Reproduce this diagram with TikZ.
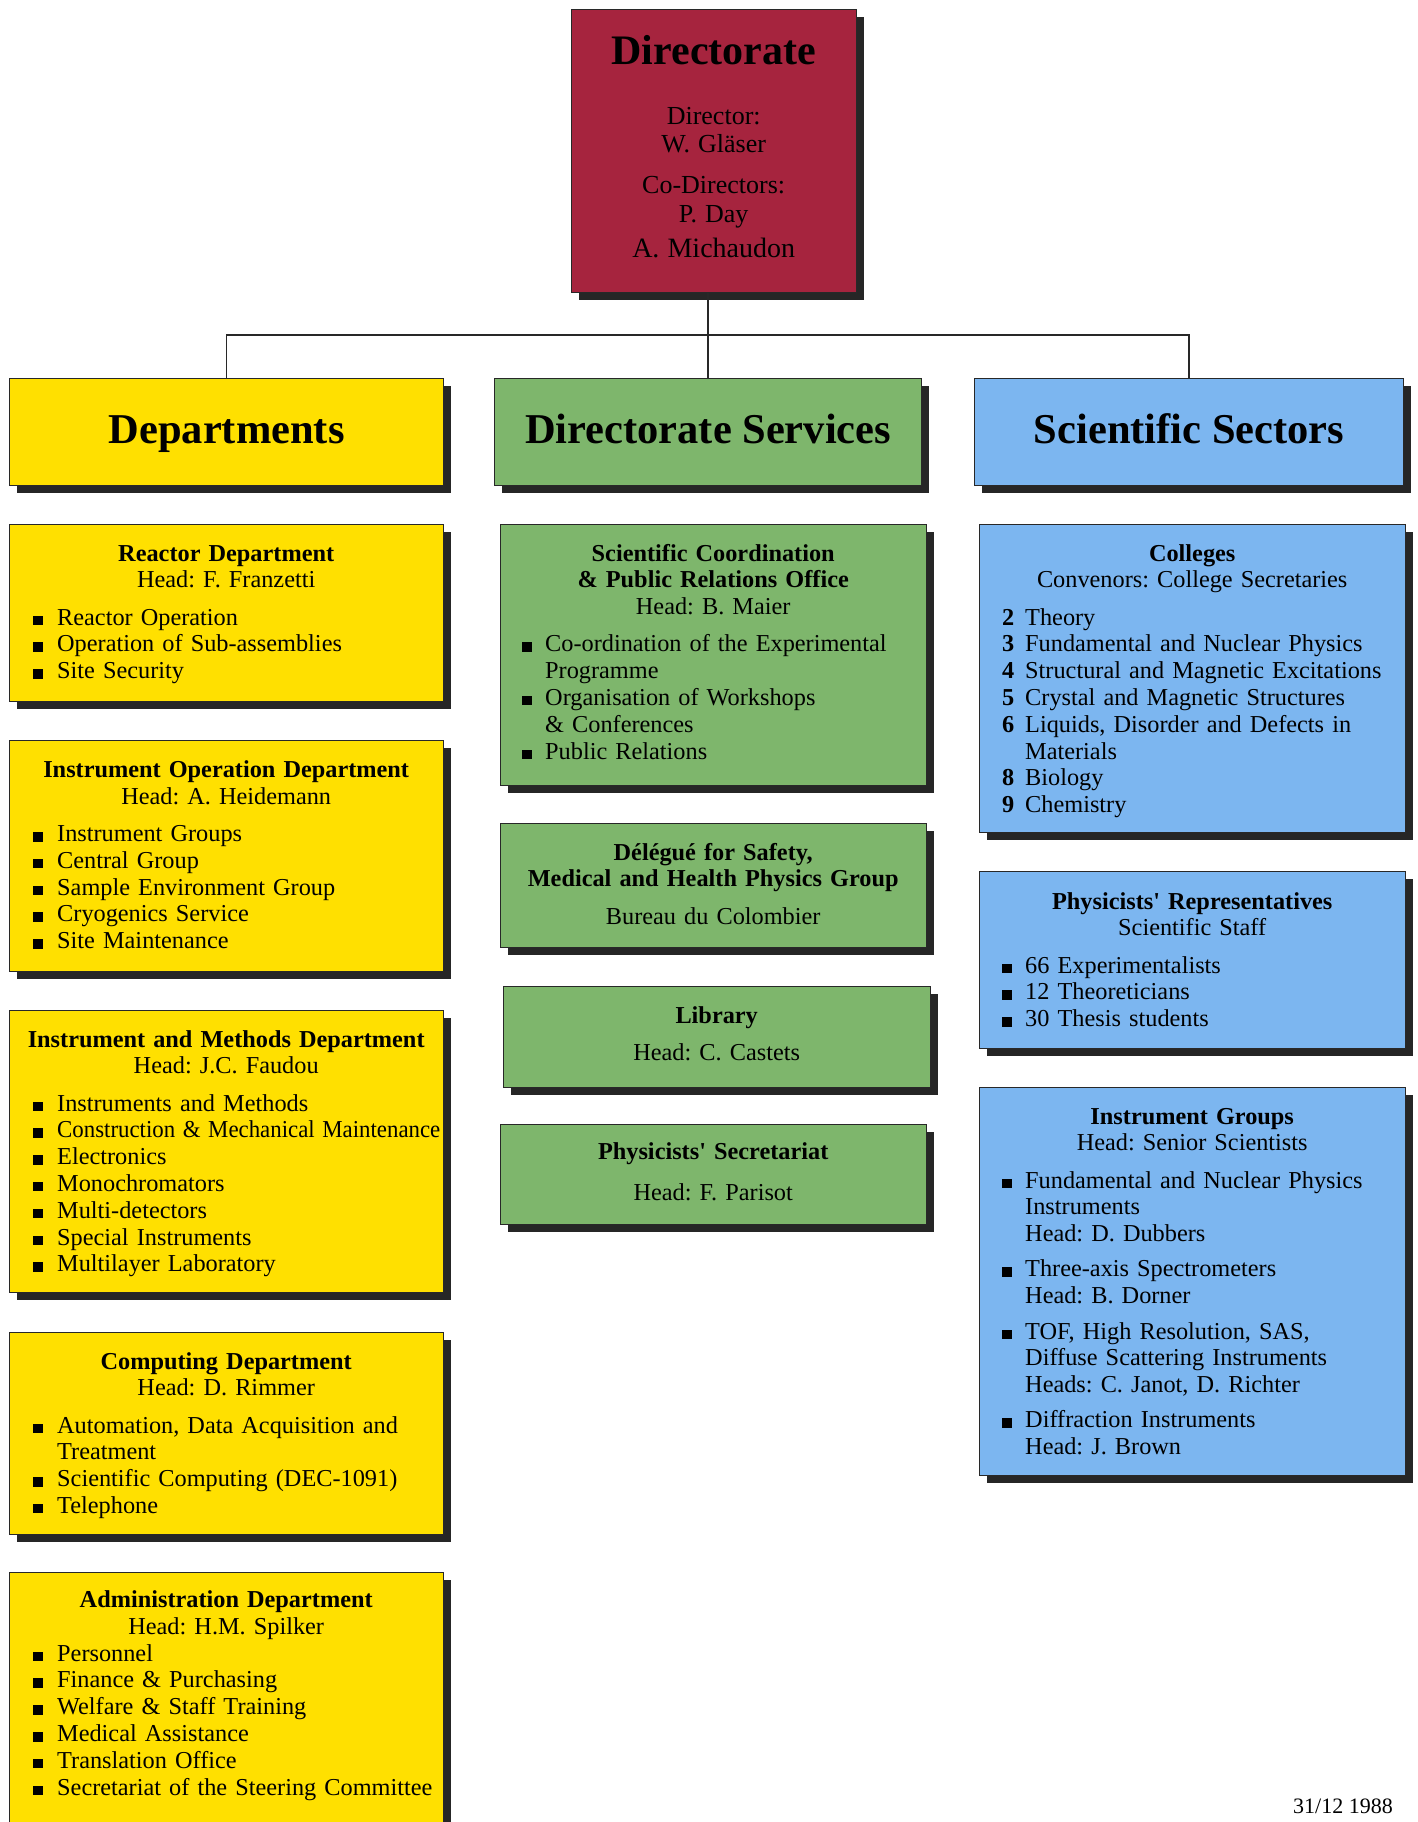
\documentclass[tikz,border=0pt]{standalone}
\usepackage{fontspec}
\setmainfont{Liberation Serif}
\usetikzlibrary{shadows}
\definecolor{dirred}{RGB}{166,36,62}
\definecolor{yel}{RGB}{255,224,0}
\definecolor{grn}{RGB}{126,182,108}
\definecolor{blu}{RGB}{124,182,240}
\definecolor{shad}{RGB}{38,38,38}
\definecolor{edge}{RGB}{40,40,40}
\newlength\bulo \newlength\txto
\newcommand\bitem[1]{\par\noindent\makebox[\txto][l]{\hspace*{\bulo}\rule{9.5pt}{9.5pt}}\mbox{#1}}
\newcommand\citem[1]{\par\noindent\hspace*{\txto}\mbox{#1}}
\newcommand\nitem[2]{\par\noindent\makebox[\txto][l]{\hspace*{\bulo}\textbf{#1}}\mbox{#2}}
\newcommand\gap[1]{\par\vspace{#1pt}}
\newcommand\bodyfont{\frenchspacing\fontsize{24.3}{26.8}\selectfont}
\newcommand\headfont{\fontsize{42.5}{48}\selectfont\bfseries}
\newcommand\ttl[2]{{\centering\textbf{#1}\\#2\par}}
\frenchspacing
\begin{document}
\begin{tikzpicture}[x=1pt,y=-1pt,
  card/.style={draw=edge, line width=1.2pt, anchor=north west, inner sep=0pt,
    general shadow={fill=shad, shadow xshift=7pt, shadow yshift=-7pt}},
  body/.style={anchor=base west, inner sep=0pt, font=\bodyfont, text=black},
  head/.style={anchor=base, inner sep=0pt, font=\headfont, text=black},
  conn/.style={draw=edge, line width=1.5pt}]
\useasboundingbox (0,0) rectangle (1417,1822);
\fill[white] (0,0) rectangle (1417,1822);
\begin{scope}
\clip (0,0) rectangle (1417,1822);

% ---------- boxes ----------
\node[card, fill=dirred, minimum width=285pt, minimum height=283pt] (dir) at (571,9) {};
\node[card, fill=yel, minimum width=434pt, minimum height=107pt] (dept) at (9,378) {};
\node[card, fill=grn, minimum width=427pt, minimum height=107pt] (dsvc) at (494,378) {};
\node[card, fill=blu, minimum width=429pt, minimum height=107pt] (sci) at (974,378) {};

\node[card, fill=yel, minimum width=434pt, minimum height=177pt] (reactor) at (9,524) {};
\node[card, fill=yel, minimum width=434pt, minimum height=231pt] (instop) at (9,740) {};
\node[card, fill=yel, minimum width=434pt, minimum height=282pt] (meth) at (9,1010) {};
\node[card, fill=yel, minimum width=434pt, minimum height=202pt] (comp) at (9,1332) {};
\node[card, fill=yel, minimum width=434pt, minimum height=300pt] (admin) at (9,1572) {};

\node[card, fill=grn, minimum width=426pt, minimum height=261pt] (scoord) at (500,524) {};
\node[card, fill=grn, minimum width=426pt, minimum height=124pt] (deleg) at (500,823) {};
\node[card, fill=grn, minimum width=427pt, minimum height=101pt] (lib) at (503,986) {};
\node[card, fill=grn, minimum width=426pt, minimum height=100pt] (secr) at (500,1124) {};

\node[card, fill=blu, minimum width=426pt, minimum height=308pt] (coll) at (979,524) {};
\node[card, fill=blu, minimum width=426pt, minimum height=177pt] (reps) at (979,871) {};
\node[card, fill=blu, minimum width=426pt, minimum height=388pt] (igrp) at (979,1087) {};

% ---------- connectors ----------
\coordinate (bus) at (708,335);
\draw[conn] (dir.south -| dsvc.north) -- (dsvc.north);
\draw[conn] (dept.north) -- (dept.north |- bus) -- (sci.north |- bus) -- (sci.north);

% ---------- directorate ----------
\node[body, text width=285pt] (dir-t) at (571,65) {%
  {\centering\fontsize{42}{48}\selectfont\bfseries Directorate\par}
  \fontsize{26}{28}\selectfont
  \vspace{32pt}{\centering Director:\par}
  \vspace{0pt}{\centering W. Gläser\par}
  \vspace{13pt}{\centering Co-Directors:\par}
  \vspace{1pt}{\centering P. Day\par}
  \vspace{5pt}{\centering\fontsize{28}{30}\selectfont A. Michaudon\par}};

% ---------- headers ----------
\node[head] (dept-t) at (dept.center |- 0,443) {Departments};
\node[head] (dsvc-t) at (dsvc.center |- 0,443) {Directorate Services};
\node[head] (sci-t) at (sci.center |- 0,443) {Scientific Sectors};

% ---------- departments ----------
\node[body, text width=434pt] (reactor-t) at (9,561) {%
  \setlength\bulo{24pt}\setlength\txto{48pt}%
  \ttl{Reactor Department}{Head: F. Franzetti}\gap{10.4}%
  \bitem{Reactor Operation}\bitem{Operation of Sub-assemblies}\bitem{Site Security}};

\node[body, text width=434pt] (instop-t) at (9,777.5) {%
  \setlength\bulo{24pt}\setlength\txto{48pt}%
  \ttl{Instrument Operation Department}{Head: A. Heidemann}\gap{10.4}%
  \bitem{Instrument Groups}\bitem{Central Group}\bitem{Sample Environment Group}%
  \bitem{Cryogenics Service}\bitem{Site Maintenance}};

\node[body, text width=434pt] (meth-t) at (9,1047) {%
  \setlength\bulo{24pt}\setlength\txto{48pt}%
  \ttl{Instrument and Methods Department}{Head: J.C. Faudou}\gap{10.4}%
  \bitem{Instruments and Methods}%
  \bitem{\scalebox{0.94}[1]{Construction \& Mechanical Maintenance}}%
  \bitem{Electronics}\bitem{Monochromators}\bitem{Multi-detectors}%
  \bitem{Special Instruments}\bitem{Multilayer Laboratory}};

\node[body, text width=434pt] (comp-t) at (9,1369) {%
  \setlength\bulo{24pt}\setlength\txto{48pt}%
  \ttl{Computing Department}{Head: D. Rimmer}\gap{10.4}%
  \bitem{Automation, Data Acquisition and}\citem{Treatment}%
  \bitem{Scientific Computing (DEC-1091)}\bitem{Telephone}};

\node[body, text width=434pt] (admin-t) at (9,1607.5) {%
  \setlength\bulo{24pt}\setlength\txto{48pt}%
  \ttl{Administration Department}{Head: H.M. Spilker}%
  \bitem{Personnel}\bitem{Finance \& Purchasing}\bitem{Welfare \& Staff Training}%
  \bitem{Medical Assistance}\bitem{Translation Office}%
  \bitem{Secretariat of the Steering Committee}};

% ---------- directorate services ----------
\node[body, text width=426pt] (scoord-t) at (500,561) {%
  \setlength\bulo{22pt}\setlength\txto{45pt}%
  {\centering\textbf{Scientific Coordination}\\\textbf{\& Public Relations Office}\\Head: B. Maier\par}\gap{10.4}%
  \bitem{Co-ordination of the Experimental}\citem{Programme}%
  \bitem{Organisation of Workshops}\citem{\& Conferences}%
  \bitem{Public Relations}};

\node[body, text width=426pt] (deleg-t) at (500,860) {%
  {\centering\textbf{Délégué for Safety,}\\\textbf{Medical and Health Physics Group}\par}\gap{10.4}%
  {\centering Bureau du Colombier\par}};

\node[body, text width=427pt] (lib-t) at (503,1023) {%
  {\centering\textbf{Library}\par}\gap{10.4}{\centering Head: C. Castets\par}};

\node[body, text width=426pt] (secr-t) at (500,1159) {%
  {\centering\textbf{Physicists\textquotesingle\ Secretariat}\par}\gap{15}{\centering Head: F. Parisot\par}};

% ---------- scientific sectors ----------
\node[body, text width=426pt] (coll-t) at (979,561) {%
  \setlength\bulo{23pt}\setlength\txto{46pt}%
  \ttl{Colleges}{Convenors: College Secretaries}\gap{10.4}%
  \nitem{2}{Theory}\nitem{3}{Fundamental and Nuclear Physics}%
  \nitem{4}{Structural and Magnetic Excitations}\nitem{5}{Crystal and Magnetic Structures}%
  \nitem{6}{Liquids, Disorder and Defects in}\citem{Materials}%
  \nitem{8}{Biology}\nitem{9}{Chemistry}};

\node[body, text width=426pt] (reps-t) at (979,909) {%
  \setlength\bulo{23pt}\setlength\txto{46pt}%
  \ttl{Physicists\textquotesingle\ Representatives}{Scientific Staff}\gap{10.4}%
  \bitem{66 Experimentalists}\bitem{12 Theoreticians}\bitem{30 Thesis students}};

\node[body, text width=426pt] (igrp-t) at (979,1124) {%
  \setlength\bulo{23pt}\setlength\txto{46pt}%
  \ttl{Instrument Groups}{Head: Senior Scientists}\gap{10.4}%
  \bitem{Fundamental and Nuclear Physics}\citem{Instruments}\citem{Head: D. Dubbers}\gap{8.5}%
  \bitem{Three-axis Spectrometers}\citem{Head: B. Dorner}\gap{8.5}%
  \bitem{TOF, High Resolution, SAS,}\citem{Diffuse Scattering Instruments}\citem{Heads: C. Janot, D. Richter}\gap{8.5}%
  \bitem{Diffraction Instruments}\citem{Head: J. Brown}};

% ---------- date ----------
\node[body, font=\frenchspacing\fontsize{22}{24}\selectfont] (date) at (1293,1813) {31/12 1988};
\end{scope}
\end{tikzpicture}
\end{document}
